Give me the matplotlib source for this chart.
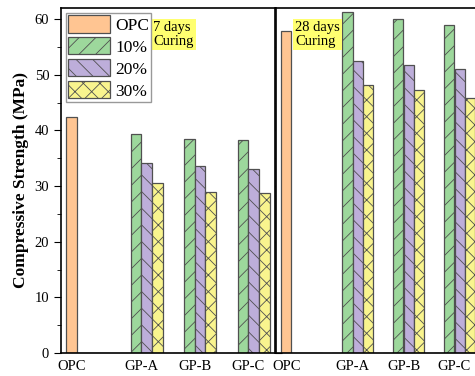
import numpy as np
import matplotlib
matplotlib.use("Agg")
import matplotlib.pyplot as plt
from matplotlib.ticker import MultipleLocator

groups = ['OPC', 'GP-A', 'GP-B', 'GP-C']
series = ['OPC', '10%', '20%', '30%']

# compressive strength (MPa), 7 days curing
opc_7 = [42.5, 0, 0, 0]
p10_7 = [0, 39.3, 38.5, 38.3]
p20_7 = [0, 34.1, 33.6, 33.0]
p30_7 = [0, 30.6, 29.0, 28.8]

# 28 days curing
opc_28 = [57.9, 0, 0, 0]
p10_28 = [0, 61.3, 60.0, 58.9]
p20_28 = [0, 52.4, 51.8, 51.1]
p30_28 = [0, 48.1, 47.3, 45.8]

colors = ['#FFC592', '#9DD89C', '#BDAEDA', '#F9F48E']
hatches = ['', '//', '\\\\', 'xx']

plt.rcParams['font.family'] = ['Liberation Serif', 'DejaVu Serif']
plt.rcParams['hatch.linewidth'] = 0.6


def draw_panel(ax, data, label_text, text_x, legend=False):
    x = np.arange(1, len(groups) + 1)
    w = 0.2
    offsets = [-1.5, -0.5, 0.5, 1.5]
    for vals, off, c, h, name in zip(data, offsets, colors, hatches, series):
        ax.bar(x + off * w, vals, w, color=c, hatch=h,
               edgecolor='#505050', linewidth=0.9, label=name)
    ax.set_xlim(0.5, 4.5)
    ax.set_ylim(0, 62)
    ticks = [1 - 1.5 * w, 2, 3, 4]
    ax.set_xticks(ticks)
    ax.set_xticklabels(groups, fontsize=10.5)
    ax.tick_params(axis='x', length=0, pad=5)
    ax.text(text_x, 0.962, label_text, transform=ax.transAxes,
            fontsize=10.5, va='top', ha='left', linespacing=1.1,
            bbox=dict(boxstyle='square,pad=0.15', facecolor='#FFFF70', edgecolor='none'))
    for s in ax.spines.values():
        s.set_linewidth(1.2)
    if legend:
        ax.legend(loc='upper left', fontsize=12.5, handlelength=2.4, handleheight=1.15,
                  labelspacing=0.2, handletextpad=0.3, borderpad=0.12,
                  borderaxespad=0.3, fancybox=False, edgecolor='#999999',
                  framealpha=1)


fig = plt.figure(figsize=(4.75, 3.76), dpi=100)
ax1 = fig.add_axes([61 / 475, 23 / 376, 214 / 475, 345 / 376])
ax2 = fig.add_axes([276 / 475, 23 / 376, 204 / 475, 345 / 376])

draw_panel(ax1, [opc_7, p10_7, p20_7, p30_7], '7 days\nCuring', 0.43, legend=True)
draw_panel(ax2, [opc_28, p10_28, p20_28, p30_28], '28 days\nCuring', 0.093)

ax1.yaxis.set_major_locator(MultipleLocator(10))
ax1.yaxis.set_minor_locator(MultipleLocator(5))
ax1.tick_params(axis='y', which='both', direction='out', labelsize=10.5, right=True)
ax1.tick_params(axis='y', which='major', length=5)
ax1.tick_params(axis='y', which='minor', length=3)
ax1.set_ylabel('Compressive Strength (MPa)', fontsize=12.5, fontweight='bold', labelpad=4)

ax2.set_yticks([])

fig.savefig('out.png', dpi=100)
